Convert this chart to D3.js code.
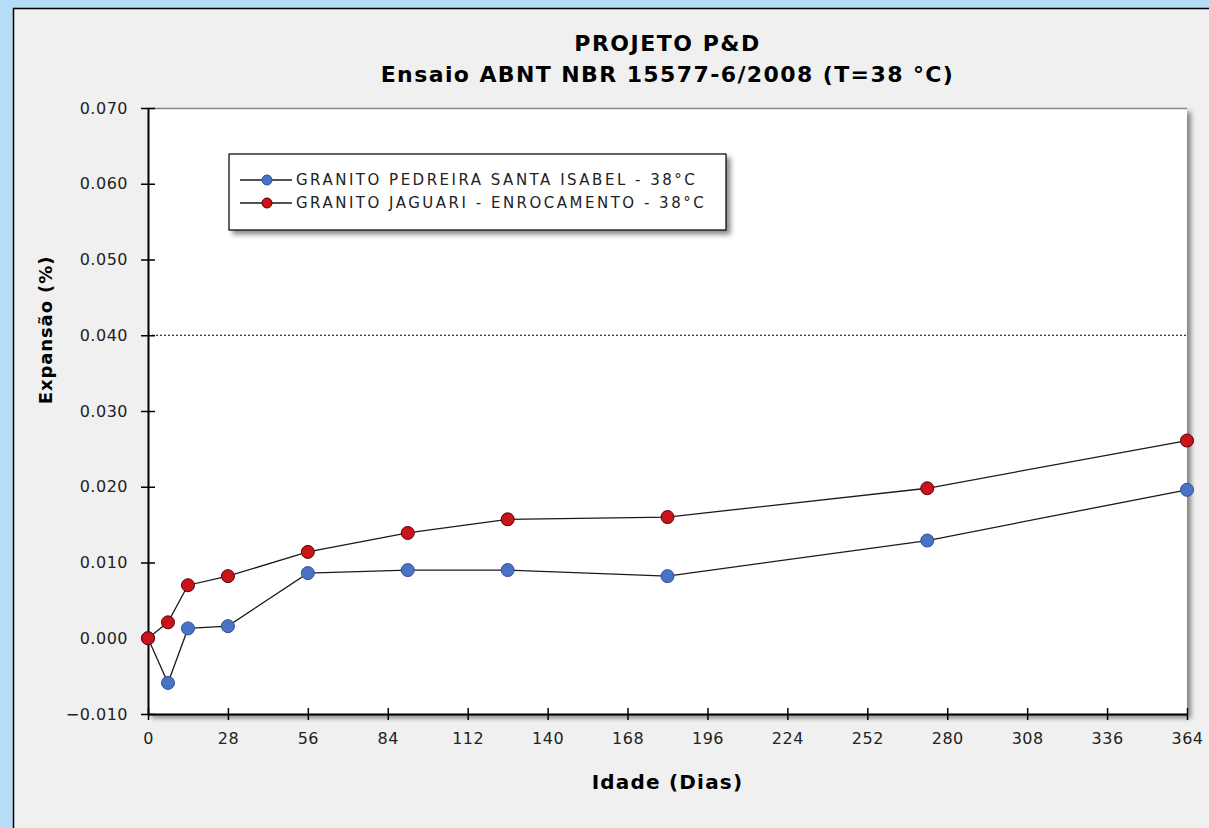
<!DOCTYPE html>
<html>
<head>
<meta charset="utf-8">
<style>
  body { margin: 0; background: #b6dcf6; }
  svg { display: block; font-family: "DejaVu Sans", "Liberation Sans", Arial, sans-serif; }
</style>
</head>
<body>
<svg width="1209" height="828"></svg>
<script src="https://d3js.org/d3.v7.min.js"></script>
<script>

// Dados
var dias = [0, 7, 14, 28, 56, 91, 126, 182, 273, 364];
var santaIsabel = [0.0000, -0.0059, 0.0013, 0.0016, 0.0086, 0.0090, 0.0090, 0.0082, 0.0129, 0.0196];
var jaguari = [0.0000, 0.0021, 0.0070, 0.0082, 0.0114, 0.0139, 0.0157, 0.0160, 0.0198, 0.0261];
var xTicks = [0, 28, 56, 84, 112, 140, 168, 196, 224, 252, 280, 308, 336, 364];
var yTicks = [-0.010, 0.000, 0.010, 0.020, 0.030, 0.040, 0.050, 0.060, 0.070];
var limite = 0.040;

var series = [
  {name: "GRANITO PEDREIRA SANTA ISABEL - 38°C", values: santaIsabel, fill: "#4a72c6", stroke: "#2f4f94"},
  {name: "GRANITO JAGUARI - ENROCAMENTO - 38°C", values: jaguari, fill: "#c8141a", stroke: "#5a0000"}
];

var svg = d3.select("svg"),
    margin = {top: 108, right: 22, bottom: 114, left: 148},
    width = +svg.attr("width") - margin.left - margin.right,
    height = +svg.attr("height") - margin.top - margin.bottom;

var defs = svg.append("defs");
var shadow = defs.append("filter").attr("id", "shadow")
    .attr("x", "-10%").attr("y", "-10%").attr("width", "130%").attr("height", "130%");
shadow.append("feDropShadow")
    .attr("dx", 4).attr("dy", 4).attr("stdDeviation", 2.5)
    .attr("flood-color", "#000").attr("flood-opacity", 0.45);

// painel cinza
svg.append("rect")
    .attr("x", 13.5).attr("y", 8.5)
    .attr("width", 1240).attr("height", 860)
    .attr("fill", "#f0f0f0")
    .attr("stroke", "#000").attr("stroke-width", 1.5);

var g = svg.append("g").attr("transform", "translate(" + margin.left + "," + margin.top + ")");

var x = d3.scaleLinear().domain([0, 364]).range([0, width]);
var y = d3.scaleLinear().domain([-0.010, 0.070]).range([height, 0]);

// área do gráfico
g.append("rect")
    .attr("width", width).attr("height", height)
    .attr("fill", "#fff")
    .attr("filter", "url(#shadow)");
g.append("line")
    .attr("x1", 0).attr("x2", width).attr("y1", 0.5).attr("y2", 0.5)
    .attr("stroke", "#888").attr("stroke-width", 1.5);

// linha limite 0.040
g.append("line")
    .attr("x1", 0).attr("x2", width)
    .attr("y1", y(limite)).attr("y2", y(limite))
    .attr("stroke", "#000").attr("stroke-width", 1)
    .attr("stroke-dasharray", "2,2");

// eixos
var xAxis = g.append("g")
    .attr("transform", "translate(0," + height + ")")
    .call(d3.axisBottom(x).tickValues(xTicks).tickSizeInner(6).tickSizeOuter(0).tickPadding(10));
xAxis.selectAll(".tick line").attr("y1", -6).attr("y2", 6);

var yAxis = g.append("g")
    .call(d3.axisLeft(y).tickValues(yTicks).tickFormat(d3.format(".3f")).tickSizeInner(7).tickSizeOuter(0).tickPadding(13));
yAxis.selectAll(".tick line").attr("x1", 7).attr("x2", -7);

[xAxis, yAxis].forEach(function(a) {
  a.select(".domain").attr("stroke", "#000").attr("stroke-width", 2);
  a.selectAll(".tick line").attr("stroke", "#000").attr("stroke-width", 1.5);
  a.selectAll(".tick text")
      .attr("font-size", 16)
      .attr("letter-spacing", 0.5)
      .attr("fill", "#222")
      .attr("font-family", "DejaVu Sans, sans-serif");
});
xAxis.selectAll(".tick text").attr("dy", "0.9em");

// linhas e marcadores
var line = d3.line()
    .x(function(d, i) { return x(dias[i]); })
    .y(function(d) { return y(d); });

series.forEach(function(s) {
  g.append("path")
      .datum(s.values)
      .attr("fill", "none")
      .attr("stroke", "#1a1a1a")
      .attr("stroke-width", 1.3)
      .attr("d", line);
});
series.forEach(function(s) {
  g.selectAll(null)
      .data(s.values)
    .enter().append("circle")
      .attr("cx", function(d, i) { return x(dias[i]); })
      .attr("cy", function(d) { return y(d); })
      .attr("r", 6.5)
      .attr("fill", s.fill)
      .attr("stroke", s.stroke)
      .attr("stroke-width", 1);
});

// legenda
var legend = svg.append("g").attr("transform", "translate(229,154)");
legend.append("rect")
    .attr("width", 497).attr("height", 76)
    .attr("fill", "#fff")
    .attr("stroke", "#000").attr("stroke-width", 1.2)
    .attr("filter", "url(#shadow)");
var item = legend.selectAll(".item")
    .data(series)
  .enter().append("g")
    .attr("transform", function(d, i) { return "translate(0," + (26 + i * 23) + ")"; });
item.append("line")
    .attr("x1", 11).attr("x2", 63)
    .attr("stroke", "#1a1a1a").attr("stroke-width", 1.3);
item.append("circle")
    .attr("cx", 38).attr("r", 5)
    .attr("fill", function(d) { return d.fill; })
    .attr("stroke", function(d) { return d.stroke; });
item.append("text")
    .attr("x", 67).attr("dy", "0.36em")
    .attr("font-size", 15)
    .attr("letter-spacing", 2.5)
    .attr("fill", "#222")
    .text(function(d) { return d.name; });

// títulos
svg.append("text")
    .attr("x", margin.left + width / 2).attr("y", 51)
    .attr("text-anchor", "middle")
    .attr("font-size", 22).attr("font-weight", "bold")
    .attr("letter-spacing", 1.5)
    .text("PROJETO P&D");
svg.append("text")
    .attr("x", margin.left + width / 2).attr("y", 82)
    .attr("text-anchor", "middle")
    .attr("font-size", 22).attr("font-weight", "bold")
    .attr("letter-spacing", 1.4)
    .text("Ensaio ABNT NBR 15577-6/2008 (T=38 °C)");

svg.append("text")
    .attr("x", margin.left + width / 2).attr("y", 789)
    .attr("text-anchor", "middle")
    .attr("font-size", 20).attr("font-weight", "bold")
    .attr("letter-spacing", 1.2)
    .text("Idade (Dias)");

svg.append("text")
    .attr("transform", "translate(52,330) rotate(-90)")
    .attr("text-anchor", "middle")
    .attr("font-size", 18).attr("font-weight", "bold")
    .attr("letter-spacing", 0.9)
    .text("Expansão (%)");

</script>
</body>
</html>
